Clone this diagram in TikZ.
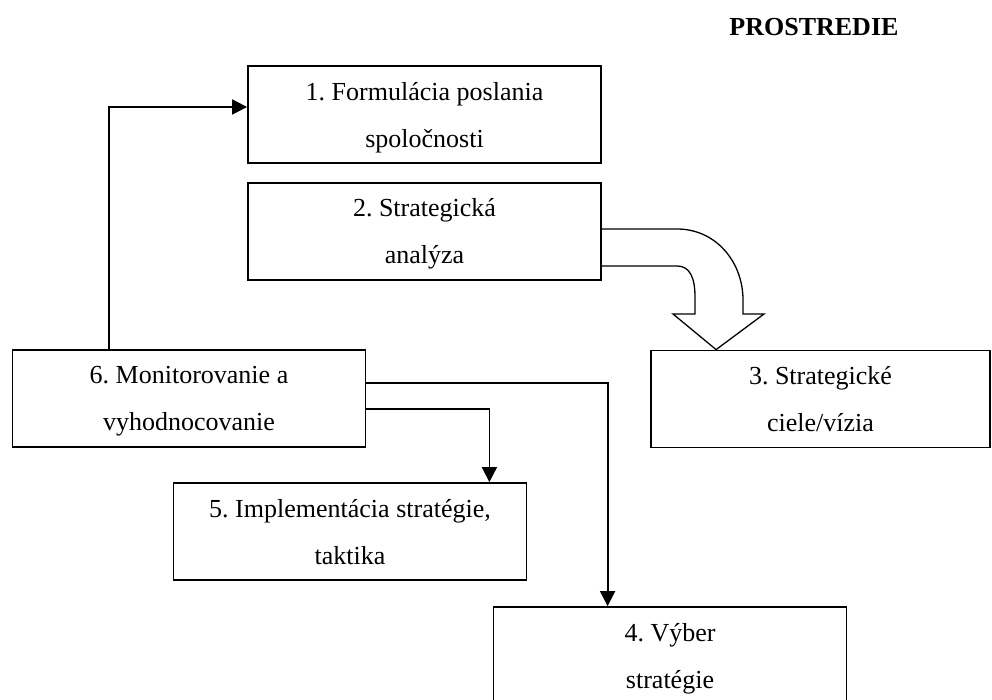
\documentclass[tikz,border=0pt]{standalone}
\usepackage{fontspec}
\setmainfont{Liberation Serif}
\usepackage{tikz}
\usetikzlibrary{arrows.meta,positioning,calc}
\frenchspacing
\tikzset{
  phasebox/.style={draw=black,line width=1.8pt,fill=white,align=center,inner sep=0pt,
    minimum width=353pt,minimum height=97pt,text depth=-2pt,
    font=\fontsize{26}{47}\selectfont},
  flowarrow/.style={-{Triangle[length=15pt,width=15pt]},line width=1.8pt},
  hollowarrow/.style={line width=1.3pt,line join=miter},
  headlabel/.style={font=\fontsize{26}{30}\selectfont\bfseries}
}
\begin{document}
\begin{tikzpicture}[x=1pt,y=-1pt]
  \clip (0,0) rectangle (992,700);
  \fill[white] (0,0) rectangle (992,700);
  \node[headlabel,anchor=east] (prostredie) at (902,27) {PROSTREDIE};
  \node[phasebox] (formul) at (424.5,114.5) {1. Formulácia poslania\\spoločnosti};
  \node[phasebox,below=18pt of formul] (analyza) {2. Strategická\\analýza};
  \node[phasebox,minimum width=339pt] (ciele) at (820.5,399) {3. Strategické\\ciele/vízia};
  \node[phasebox] (monitor) at (189,398.5) {6. Monitorovanie a\\vyhodnocovanie};
  \node[phasebox] (implem) at (350,531.5) {5. Implementácia stratégie,\\taktika};
  \node[phasebox] (vyber) at (670,655.5) {4. Výber\\stratégie};
  % entry points of the connectors
  \coordinate (tip) at ($(ciele.north west)+(66,0)$);
  \coordinate (vyberin) at ($(vyber.north west)+(115,0)$);
  \coordinate (implemin) at ($(implem.north east)+(-38,0)$);
  \coordinate (monitorup) at ($(monitor.north west)+(97,0)$);
  \draw[flowarrow] (monitorup) |- ([yshift=7.5pt]formul.west);
  \draw[flowarrow] ([yshift=15.5pt]monitor.east) -| (vyberin);
  \draw[flowarrow] ([yshift=-10.5pt]monitor.east) -| (implemin);
  % wide bent arrow from the analysis to the goals
  \draw[hollowarrow] (analyza.east |- 0,229) -- (677,229)
    .. controls (716,229) and (743,262) .. (743,300) -- (743,314) -- (764,314)
    -- (tip) -- (673,314) -- (695,314) -- (695,297)
    .. controls (695,278) and (690,266) .. (677,266) -- (analyza.east |- 0,266);
\end{tikzpicture}
\end{document}
